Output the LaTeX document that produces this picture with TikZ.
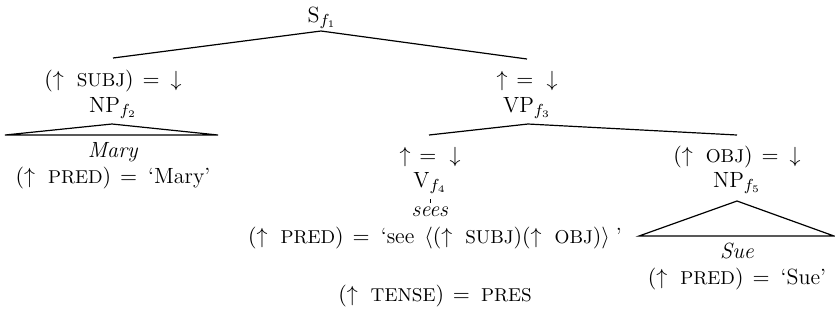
\documentclass[tikz,border=0pt]{standalone}
\newcommand{\fsc}[1]{{\fontsize{9.3}{11}\selectfont #1}}
\newcommand{\upa}{$(\uparrow$\hspace{6.5pt}}
\newcommand{\eqs}{\hspace{4.5pt}$=$\hspace{5.5pt}}
\newcommand{\updown}{$\uparrow$\hspace{4.5pt}$=$\hspace{6.5pt}$\downarrow$}
\begin{document}
\begin{tikzpicture}[x=0.5pt,y=-0.5pt,
  lbl/.style={inner sep=0pt,anchor=base,font=\fontsize{11}{13}\selectfont},
  edge/.style={line width=0.6pt},
  tri/.style={line width=0.6pt,line join=miter}]
\useasboundingbox (0,0) rectangle (835,329);
% S
\node[lbl] (S) at (322,22) {S$_{f_1}$};
\coordinate (Sa) at (321,31);
\coordinate (Sl) at (113,58);
\coordinate (Sr) at (527,59);
\draw[edge] (Sl) -- (Sa) -- (Sr);
% subject
\node[lbl] (subjeq) at (113,86) {\upa\fsc{SUBJ}$)$\eqs$\downarrow$};
\node[lbl] (NP2) at (113,112) {NP$_{f_2}$};
\coordinate (T1a) at (112,124);
\coordinate (T1l) at (5,135);
\coordinate (T1r) at (218,135);
\draw[tri] (T1a) -- (T1l) -- (T1r) -- cycle;
\node[lbl] (mary) at (113,157) {\textit{Mary}};
\node[lbl] (marypred) at (113,183) {\upa\fsc{PRED}$)$\eqs`Mary'};
% VP
\node[lbl] (vpeq) at (527,86) {\updown};
\node[lbl] (VP) at (527,112) {VP$_{f_3}$};
\coordinate (VPa) at (528,124);
\coordinate (VPl) at (429,135);
\coordinate (VPr) at (737,135);
\draw[edge] (VPl) -- (VPa) -- (VPr);
% V
\node[lbl] (veq) at (430,162) {\updown};
\node[lbl] (V) at (430,187) {V$_{f_4}$};
\coordinate (tk1) at (430,199);
\coordinate (tk2) at (430,203);
\draw[line width=0.5pt] (tk1) -- (tk2);
\node[lbl] (sees) at (430,216) {\textit{sees}};
\node[lbl] (seepred) at (435,243) {\upa\fsc{PRED}$)$\eqs`see\hspace{5pt}$\langle($$\uparrow$\hspace{6.5pt}\fsc{SUBJ}$)(\uparrow$\hspace{6.5pt}\fsc{OBJ}$)\rangle$\hspace{3pt}'};
\node[lbl] (tense) at (435,301) {\upa\fsc{TENSE}$)$\eqs\fsc{PRES}};
% object
\node[lbl] (objeq) at (737,162) {\upa\fsc{OBJ}$)$\eqs$\downarrow$};
\node[lbl] (NP5) at (737,187) {NP$_{f_5}$};
\coordinate (T2a) at (737,201);
\coordinate (T2l) at (639,236);
\coordinate (T2r) at (834,236);
\draw[tri] (T2a) -- (T2l) -- (T2r) -- cycle;
\node[lbl] (sue) at (737,258) {\textit{Sue}};
\node[lbl] (suepred) at (737,284) {\upa\fsc{PRED}$)$\eqs`Sue'};
\end{tikzpicture}
\end{document}
